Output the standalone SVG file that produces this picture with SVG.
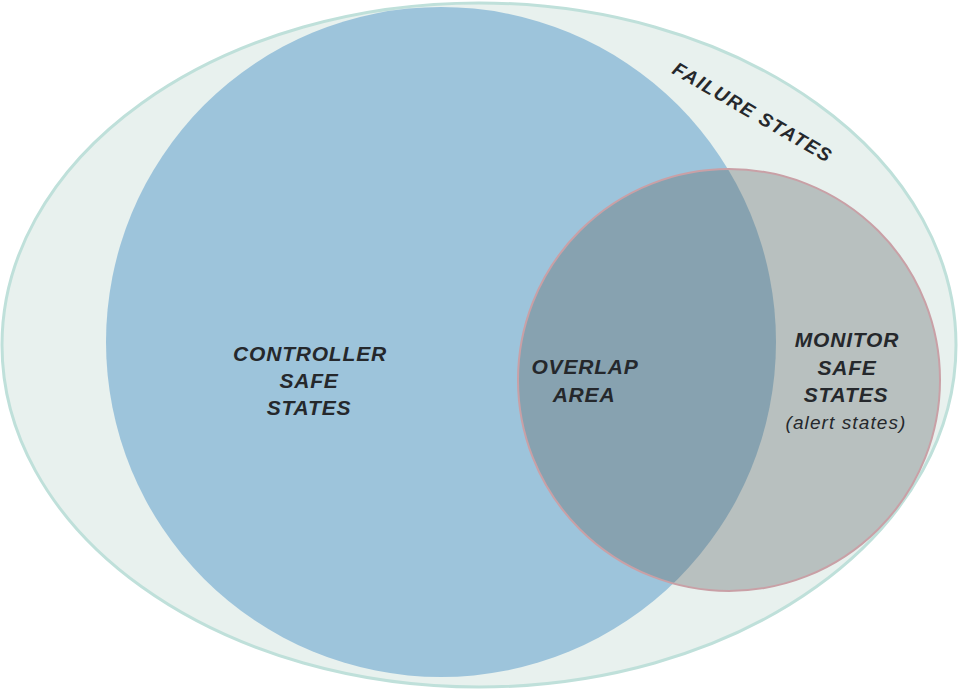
<svg xmlns="http://www.w3.org/2000/svg" width="958" height="690" viewBox="0 0 958 690">
<style>
.lbl{font-family:"Liberation Sans",Arial,sans-serif;font-weight:bold;font-style:italic;font-size:21px;fill:#25282c;text-anchor:middle;letter-spacing:0.8px}
.sub{font-family:"Liberation Sans",Arial,sans-serif;font-style:italic;font-size:19px;fill:#25282c;text-anchor:middle;letter-spacing:1.1px}
</style>
<defs>
<clipPath id="blueClip"><circle cx="441" cy="342" r="335"/></clipPath>
</defs>
<rect width="958" height="690" fill="#ffffff"/>
<g id="failure-states">
<ellipse cx="479" cy="345" rx="477" ry="342" fill="#e8f1ee" stroke="#bfe0da" stroke-width="3"/>
<text class="lbl" transform="translate(753,112) rotate(30)" y="7" style="font-size:19px;letter-spacing:1.6px">FAILURE STATES</text>
</g>
<g id="controller-safe-states">
<circle cx="441" cy="342" r="335" fill="#9dc4db"/>
<text class="lbl" x="310" y="361">CONTROLLER</text>
<text class="lbl" x="309" y="388">SAFE</text>
<text class="lbl" x="309" y="415">STATES</text>
</g>
<g id="monitor-safe-states">
<circle cx="729" cy="380" r="211" fill="#b8c0bf"/>
<circle cx="729" cy="380" r="211" fill="#87a2b0" clip-path="url(#blueClip)"/>
<circle cx="729" cy="380" r="211" fill="none" stroke="#c9a0a6" stroke-width="2"/>
<text class="lbl" x="847" y="347">MONITOR</text>
<text class="lbl" x="847" y="375">SAFE</text>
<text class="lbl" x="846" y="402">STATES</text>
<text class="sub" x="846" y="429">(alert states)</text>
</g>
<g id="overlap-area">
<text class="lbl" x="585" y="374">OVERLAP</text>
<text class="lbl" x="584" y="402">AREA</text>
</g>
<g id="connectors"></g>
</svg>
